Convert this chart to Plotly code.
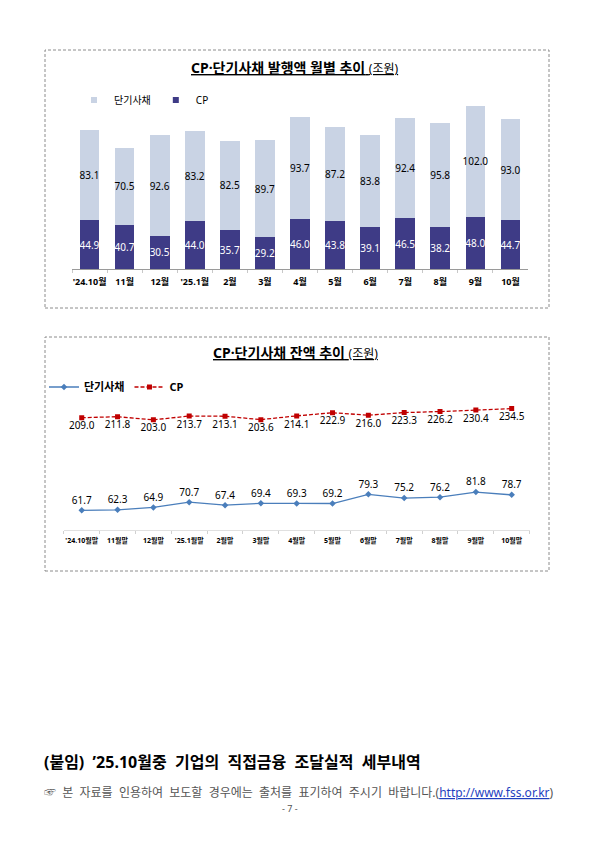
import plotly.graph_objects as go

W, H = 595, 841
FONT = "Noto Sans, Noto Sans CJK KR, sans-serif"

CP_DARK = "#3E3B86"
STB_LIGHT = "#C9D3E4"
LINE_BLUE = "#4A7EBB"
LINE_RED = "#C00000"
BOX_GREY = "#8C8C8C"

# 발행액 (조원)
months = ["'24.10월", "11월", "12월", "'25.1월", "2월", "3월", "4월",
          "5월", "6월", "7월", "8월", "9월", "10월"]
cp_issue = [44.9, 40.7, 30.5, 44.0, 35.7, 29.2, 46.0, 43.8, 39.1, 46.5, 38.2, 48.0, 44.7]
stb_issue = [83.1, 70.5, 92.6, 83.2, 82.5, 89.7, 93.7, 87.2, 83.8, 92.4, 95.8, 102.0, 93.0]

# 잔액 (조원)
month_ends = ["'24.10월말", "11월말", "12월말", "'25.1월말", "2월말", "3월말", "4월말",
              "5월말", "6월말", "7월말", "8월말", "9월말", "10월말"]
cp_balance = [209.0, 211.8, 203.0, 213.7, 213.1, 203.6, 214.1, 222.9, 216.0, 223.3, 226.2, 230.4, 234.5]
stb_balance = [61.7, 62.3, 64.9, 70.7, 67.4, 69.4, 69.3, 69.2, 79.3, 75.2, 76.2, 81.8, 78.7]


def px_x(x):
    return x / W


def px_y(y):
    return 1 - y / H


fig = go.Figure()

# ---- chart 1: stacked bars
fig.add_trace(go.Bar(
    x=months, y=cp_issue, name="CP", marker=dict(color=CP_DARK, line_width=0),
    texttemplate="%{y:.1f}", textposition="inside", insidetextanchor="middle",
    textangle=0, textfont=dict(color="white", size=10, family=FONT),
    showlegend=False, xaxis="x", yaxis="y",
))
fig.add_trace(go.Bar(
    x=months, y=stb_issue, name="단기사채", marker=dict(color=STB_LIGHT, line_width=0),
    texttemplate="%{y:.1f}", textposition="inside", insidetextanchor="middle",
    textangle=0, textfont=dict(color="black", size=10, family=FONT),
    showlegend=False, xaxis="x", yaxis="y",
))
# legend keys (small squares like the original)
for name, col in [("단기사채", STB_LIGHT), ("CP", CP_DARK)]:
    fig.add_trace(go.Scatter(
        x=[None], y=[None], mode="markers", name=name,
        marker=dict(symbol="square", size=6, color=col),
        legend="legend", xaxis="x", yaxis="y",
    ))

# ---- chart 2: balances, two scales
fig.add_trace(go.Scatter(
    x=month_ends, y=stb_balance, name="단기사채", mode="lines+markers+text",
    line=dict(color=LINE_BLUE, width=1.3),
    marker=dict(symbol="diamond", size=5, color=LINE_BLUE),
    text=[f"{v:.1f}" for v in stb_balance], textposition="top center",
    textfont=dict(size=10, color="black", family=FONT),
    legend="legend2", xaxis="x2", yaxis="y2",
))
fig.add_trace(go.Scatter(
    x=month_ends, y=cp_balance, name="CP", mode="lines+markers+text",
    line=dict(color=LINE_RED, width=1.3, dash="4px,2px"),
    marker=dict(symbol="square", size=5, color=LINE_RED),
    text=[f"{v:.1f}" for v in cp_balance], textposition="bottom center",
    textfont=dict(size=10, color="black", family=FONT),
    legend="legend2", xaxis="x2", yaxis="y3",
))

axis_common = dict(showgrid=False, zeroline=False, fixedrange=True)

fig.update_layout(
    width=W, height=H, autosize=False,
    margin=dict(l=0, r=0, t=0, b=0),
    paper_bgcolor="white", plot_bgcolor="rgba(0,0,0,0)",
    font=dict(family=FONT, color="black"),
    barmode="stack", bargap=0.44,
    uniformtext=dict(minsize=10, mode="show"),
    xaxis=dict(
        domain=[px_x(72), px_x(528)], anchor="y", type="category",
        showline=True, linecolor="#9A9A9A", linewidth=1,
        ticks="outside", tickson="boundaries", ticklen=3, tickcolor="#C8C8C8",
        tickangle=0,
        tickfont=dict(size=9, color="black", family=FONT, weight="bold"),
        ticklabelstandoff=4, **axis_common,
    ),
    yaxis=dict(
        domain=[px_y(269), px_y(100)], anchor="x", range=[0, 155.5],
        visible=False, **axis_common,
    ),
    xaxis2=dict(
        domain=[px_x(63.8), px_x(529.6)], anchor="y2", type="category",
        range=[-0.5, 12.5],
        showline=True, linecolor="#E0E0E0", linewidth=1,
        ticks="outside", tickson="boundaries", ticklen=3, tickcolor="#D0D0D0",
        tickangle=0,
        tickfont=dict(size=7, color="black", family=FONT, weight="bold"),
        ticklabelstandoff=4, **axis_common,
    ),
    yaxis2=dict(
        domain=[px_y(530), px_y(390)], anchor="x2", range=[40.1, 193.9],
        visible=False, **axis_common,
    ),
    yaxis3=dict(
        overlaying="y2", anchor="x2", range=[-105.6, 286.6],
        visible=False, **axis_common,
    ),
    legend=dict(
        orientation="h", x=px_x(74), y=px_y(100), xanchor="left", yanchor="middle",
        itemwidth=30, traceorder="normal", bgcolor="rgba(0,0,0,0)",
        font=dict(size=10, color="black", family=FONT),
    ),
    legend2=dict(
        orientation="h", x=px_x(44), y=px_y(387), xanchor="left", yanchor="middle",
        itemwidth=30, traceorder="normal", bgcolor="rgba(0,0,0,0)",
        font=dict(size=11, color="black", family=FONT, weight="bold"),
    ),
)

# dashed frames around the two charts
for top, bottom in [(50, 308), (337, 571)]:
    fig.add_shape(
        type="rect", xref="paper", yref="paper",
        x0=px_x(45), x1=px_x(549), y0=px_y(bottom), y1=px_y(top),
        line=dict(color=BOX_GREY, width=1, dash="3px,2px"),
    )

titles = [
    (68, "<b>CP·단기사채 발행액 월별 추이</b> <span style='font-size:12px'>(조원)</span>"),
    (353, "<b>CP·단기사채 잔액 추이</b> <span style='font-size:12px'>(조원)</span>"),
]
for y, txt in titles:
    fig.add_annotation(
        x=px_x(295), y=px_y(y), xref="paper", yref="paper", showarrow=False,
        text=f"<u>{txt}</u>", font=dict(size=14, color="black", family=FONT),
        xanchor="center", yanchor="middle",
    )

NB = "\u00a0"
heading = (f"(붙임){NB}{NB}’25.10월중{NB}{NB}기업의{NB}{NB}직접금융"
           f"{NB}{NB}조달실적{NB}{NB}세부내역")
note = ("☞ 본 자료를 인용하여 보도할 경우에는 출처를 표기하여 주시기 바랍니다.").replace(" ", NB + " ")
fig.add_annotation(
    x=px_x(42), y=px_y(762), xref="paper", yref="paper", showarrow=False,
    text=f"<b>{heading}</b>",
    font=dict(size=16, color="black", family=FONT),
    xanchor="left", yanchor="middle",
)
fig.add_annotation(
    x=px_x(42), y=px_y(792), xref="paper", yref="paper", showarrow=False,
    text=note + "(<span style='color:#1F3FBF'><u>http://www.fss.or.kr</u></span>)",
    font=dict(size=12, color="#555555", family=FONT),
    xanchor="left", yanchor="middle",
)
fig.add_annotation(
    x=px_x(290), y=px_y(808), xref="paper", yref="paper", showarrow=False,
    text="- 7 -", font=dict(size=9, color="#555555", family=FONT),
    xanchor="center", yanchor="middle",
)

fig.write_html(
    "out.html",
    config={"displayModeBar": False},
    post_script="document.body.style.margin='0px';",
)
